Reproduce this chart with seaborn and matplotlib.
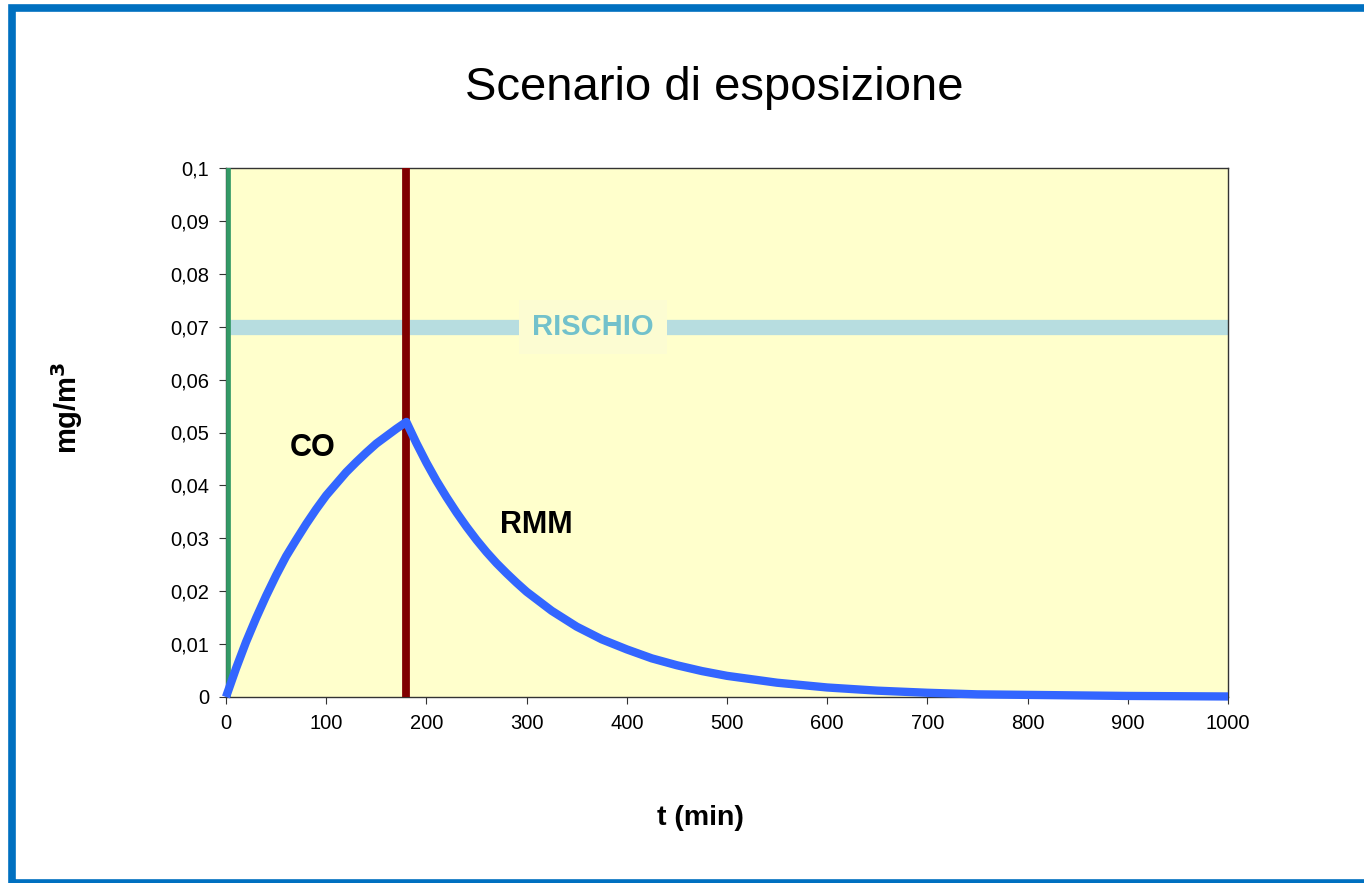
import matplotlib
matplotlib.use("Agg")
import matplotlib.pyplot as plt
from matplotlib.patches import Rectangle
import pandas as pd
import seaborn as sns

# concentration (t in min, mg/m3)
t_min = [0, 10, 20, 30, 40, 50, 60, 70, 80, 90, 100, 110, 120, 130, 140, 150, 160, 170, 180,
         190, 200, 210, 220, 230, 240, 250, 260, 270, 280, 290, 300,
         325, 350, 375, 400, 425, 450, 475, 500, 550, 600, 650, 700, 750, 800, 900, 1000]
conc = [0.0, 0.0054, 0.0104, 0.0149, 0.0191, 0.0230, 0.0266, 0.0297, 0.0327, 0.0355, 0.0381,
        0.0403, 0.0425, 0.0444, 0.0462, 0.0479, 0.0493, 0.0507, 0.0520,
        0.0480, 0.0443, 0.0409, 0.0378, 0.0349, 0.0322, 0.0297, 0.0274, 0.0253, 0.0234, 0.0216, 0.0199,
        0.0163, 0.0133, 0.0109, 0.0090, 0.0073, 0.0060, 0.0049, 0.0040, 0.0027, 0.0018, 0.0012,
        0.0008, 0.0005, 0.0004, 0.0002, 0.0001]

risk_level = 0.07
t_start = 2
t_stop = 180
x_ticks = [0, 100, 200, 300, 400, 500, 600, 700, 800, 900, 1000]
y_ticks = [0, 0.01, 0.02, 0.03, 0.04, 0.05, 0.06, 0.07, 0.08, 0.09, 0.1]
y_tick_labels = ["0", "0,01", "0,02", "0,03", "0,04", "0,05", "0,06", "0,07", "0,08", "0,09", "0,1"]

df = pd.DataFrame({"t": t_min, "c": conc})

sns.set_style("ticks")
plt.rcParams["font.family"] = ["Liberation Sans", "DejaVu Sans"]
plt.rcParams["text.color"] = "black"
plt.rcParams["axes.labelcolor"] = "black"
plt.rcParams["xtick.color"] = "black"
plt.rcParams["ytick.color"] = "black"

fig = plt.figure(figsize=(13.64, 8.83), dpi=100)
ax = fig.add_axes([226 / 1364, 1 - 697 / 883, 1002 / 1364, 529 / 883])
ax.set_facecolor("#FFFFCC")

ax.axhline(risk_level, color="#B7DDE0", lw=11, zorder=2)
ax.axvline(t_start, color="#339966", lw=3.4, zorder=3)
ax.axvline(t_stop, color="#800000", lw=5.6, zorder=3)
sns.lineplot(data=df, x="t", y="c", ax=ax, color="#3366FF", lw=6, zorder=4,
             solid_capstyle="butt", solid_joinstyle="round", clip_on=False)

ax.text(366, risk_level, "RISCHIO", ha="center", va="center", fontsize=21,
        fontweight="bold", color="#72C1CB", zorder=5,
        bbox=dict(boxstyle="square,pad=0.45", fc="#FCFCD2", ec="none"))
ax.text(86, 0.047, "CO", ha="center", va="center", fontsize=22, fontweight="bold")
ax.text(310, 0.0325, "RMM", ha="center", va="center", fontsize=22, fontweight="bold")

ax.set_xlim(0, 1000)
ax.set_ylim(0, 0.1)
ax.set_xticks(x_ticks)
ax.set_xticklabels([str(v) for v in x_ticks])
ax.set_yticks(y_ticks)
ax.set_yticklabels(y_tick_labels)
ax.tick_params(labelsize=14.5, length=5, color="#333333", pad=7)
for s in ax.spines.values():
    s.set_color("#333333")
    s.set_linewidth(1)

ax.set_xlabel("")
ax.set_ylabel("")
fig.text(700 / 1364, 1 - 818 / 883, "t (min)", ha="center", va="center",
         fontsize=20.5, fontweight="bold")
fig.text(67 / 1364, 1 - 408 / 883, "mg/m$\\mathbf{^3}$", ha="center", va="center",
         fontsize=21, fontweight="bold", rotation=90)
fig.text(714 / 1364, 1 - 88 / 883, "Scenario di esposizione", ha="center", va="center", fontsize=34)

# blue slide frame
fig.patches.append(Rectangle((11.5 / 1364, 0), 1.05, 1 - 8 / 883,
                             transform=fig.transFigure, fill=False,
                             ec="#0070C0", lw=5.5))

fig.savefig("out.png", dpi=100)
